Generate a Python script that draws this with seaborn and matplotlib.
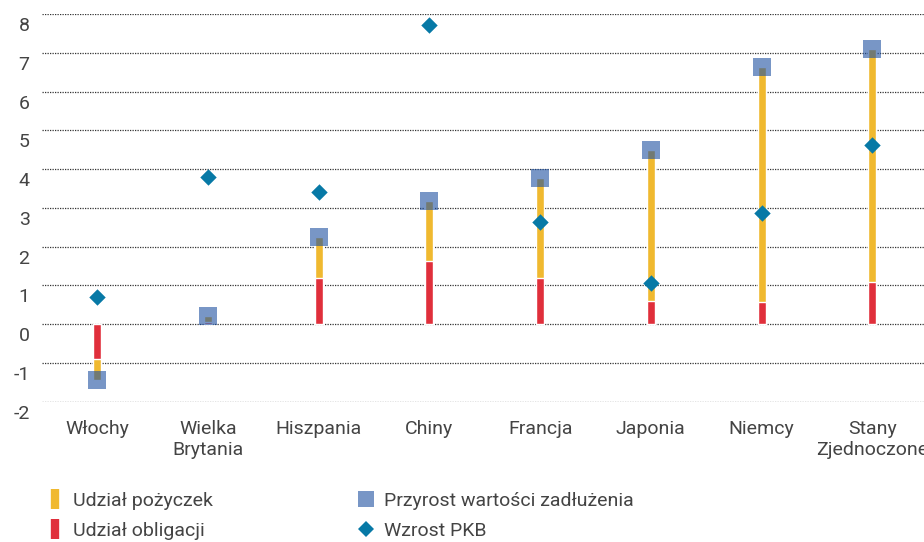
import matplotlib
matplotlib.use("Agg")
import matplotlib.pyplot as plt
from matplotlib.lines import Line2D
from matplotlib.transforms import ScaledTranslation
import seaborn as sns
import numpy as np

# data
countries = ["Włochy", "Wielka\nBrytania", "Hiszpania", "Chiny", "Francja",
             "Japonia", "Niemcy", "Stany\nZjednoczone"]
bond_share = [-0.90, 0.06, 1.18, 1.64, 1.18, 0.60, 0.58, 1.10]
loan_share = [-0.54, 0.15, 1.08, 1.53, 2.60, 3.89, 6.05, 5.99]
debt_growth = [-1.44, 0.21, 2.26, 3.17, 3.78, 4.49, 6.63, 7.09]
gdp_growth = [0.69, 3.80, 3.42, 7.71, 2.64, 1.07, 2.87, 4.62]
y_ticks = list(range(-2, 9))

yellow = "#F0B92F"
red = "#E02F3B"
square_col = "#1E50A0"
diamond_col = "#0779A6"
text_col = "#444444"

sns.set_style("white")
plt.rcParams['font.family'] = ['Roboto', 'DejaVu Sans']

fig = plt.figure(figsize=(9.24, 5.42), dpi=100)
ax = fig.add_axes([42 / 924, 1 - 401.7 / 542, 885.6 / 924, (401.7 - 14) / 542])

stack_top = np.array(bond_share) + np.array(loan_share)

# loans stacked on bonds: draw full stack in yellow, bonds in red over it
sns.barplot(x=countries, y=stack_top, color=yellow, width=0.072,
            errorbar=None, saturation=1, ax=ax, zorder=2)
sns.barplot(x=countries, y=bond_share, color=red, width=0.072,
            errorbar=None, saturation=1, ax=ax, zorder=2)
sns.scatterplot(x=countries, y=debt_growth, marker="s", s=150, color=square_col,
                alpha=0.6, linewidth=0, ax=ax, zorder=3)
sns.scatterplot(x=countries, y=gdp_growth, marker="D", s=70, color=diamond_col,
                linewidth=0, ax=ax, zorder=4)

ax.set_xlim(-0.5, len(countries) - 0.5)
ax.set_ylim(-2, 8)
ax.set_yticks(y_ticks)
ax.set_yticklabels([str(t) for t in y_ticks])
ax.set_xlabel("")
ax.set_ylabel("")
for s in ax.spines.values():
    s.set_visible(False)
ax.yaxis.grid(True, linestyle=(0, (1, 1)), linewidth=0.9, color="#333333", zorder=0)
ax.set_axisbelow(True)
ax.tick_params(axis="both", length=0, labelsize=14, labelcolor=text_col)
ax.tick_params(axis="y", pad=9)
ax.tick_params(axis="x", pad=13)
shift = ScaledTranslation(0, -3 / 100, fig.dpi_scale_trans)
for lab in ax.get_yticklabels():
    lab.set_verticalalignment("top")
    lab.set_transform(lab.get_transform() + shift)

handles = [
    Line2D([], [], linestyle="none", marker="|", markersize=15, markeredgewidth=6,
           color=yellow, label="Udział pożyczek"),
    Line2D([], [], linestyle="none", marker="|", markersize=15, markeredgewidth=6,
           color=red, label="Udział obligacji"),
    Line2D([], [], linestyle="none", marker="s", markersize=11, color=square_col,
           alpha=0.6, markeredgewidth=0, label="Przyrost wartości zadłużenia"),
    Line2D([], [], linestyle="none", marker="D", markersize=8, color=diamond_col,
           markeredgewidth=0, label="Wzrost PKB"),
]
fig.legend(handles=handles, ncol=2, loc="upper left", bbox_to_anchor=(45 / 924, 1 - 492 / 542),
           frameon=False, fontsize=14, labelcolor=text_col, handlelength=1.0,
           handletextpad=0.43, columnspacing=7.4, labelspacing=0.62, borderpad=0,
           borderaxespad=0)

fig.savefig("out.png", dpi=100)
